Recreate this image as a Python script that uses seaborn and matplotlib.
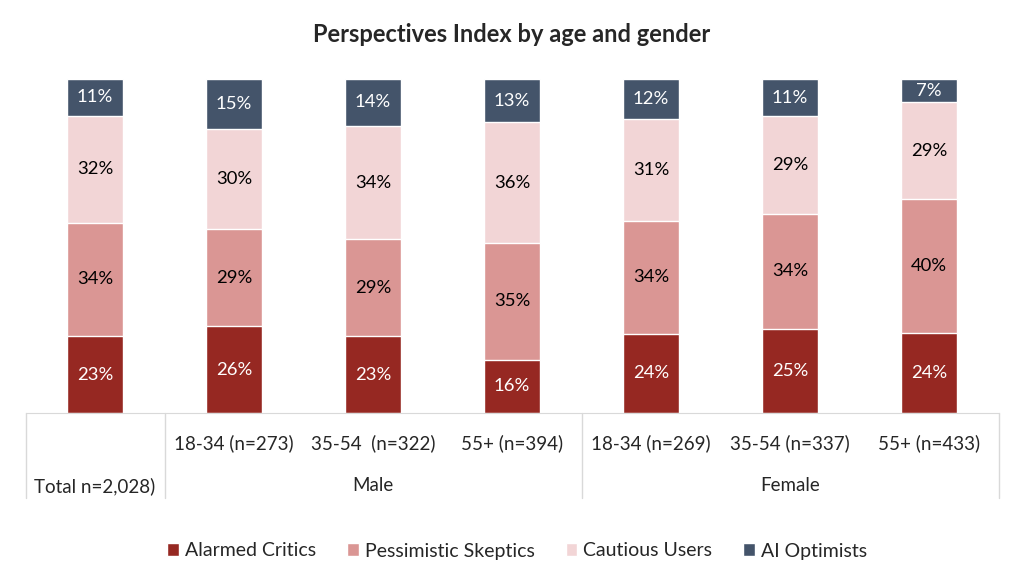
import pandas as pd
import seaborn as sns
import matplotlib.pyplot as plt
import matplotlib.transforms as mtransforms
from matplotlib.patches import Patch

groups = ["Total n=2,028)", "18-34 (n=273)", "35-54  (n=322)", "55+ (n=394)",
          "18-34 (n=269)", "35-54 (n=337)", "55+ (n=433)"]
age_labels = ["", "18-34 (n=273)", "35-54  (n=322)", "55+ (n=394)",
              "18-34 (n=269)", "35-54 (n=337)", "55+ (n=433)"]
segments = ["Alarmed Critics", "Pessimistic Skeptics", "Cautious Users", "AI Optimists"]
alarmed = [23, 26, 23, 16, 24, 25, 24]
pessimistic = [34, 29, 29, 35, 34, 34, 40]
cautious = [32, 30, 34, 36, 31, 29, 29]
optimists = [11, 15, 14, 13, 12, 11, 7]
colors = ["#962822", "#DA9694", "#F2D5D6", "#44546A"]
text_colors = ["white", "black", "black", "white"]

df = pd.DataFrame({"group": groups, segments[0]: alarmed, segments[1]: pessimistic,
                   segments[2]: cautious, segments[3]: optimists})
# 100% stacked: normalise each column
vals = df[segments]
vals = vals.div(vals.sum(axis=1), axis=0) * 100
cum = vals.cumsum(axis=1)

sns.set_style("white")
plt.rcParams['font.family'] = ['Lato', 'DejaVu Sans']

fig = plt.figure(figsize=(10.24, 5.86), dpi=100)
ax = fig.add_axes([25.5 / 1024, 173 / 586, 973 / 1024, 334 / 586])

# draw cumulative bars from the top down so they overlap into a stack
for i in range(len(segments) - 1, -1, -1):
    sns.barplot(x=df["group"], y=cum[segments[i]], color=colors[i], width=0.4,
                saturation=1, ax=ax, order=groups)

# segment labels
for i, seg in enumerate(segments):
    bottoms = cum[seg] - vals[seg]
    for j in range(len(groups)):
        ax.text(j, bottoms[j] + vals[seg][j] / 2, f"{df[seg][j]}%",
                ha="center", va="center", fontsize=13.3, color=text_colors[i])

ax.set_xlim(-0.5, len(groups) - 0.5)
ax.set_ylim(0, 100)
ax.set_xticks([])
ax.set_yticks([])
ax.set_xlabel("")
ax.set_ylabel("")
for s in ["top", "right", "left"]:
    ax.spines[s].set_visible(False)
ax.spines["bottom"].set_color("#D9D9D9")

trans = mtransforms.blended_transform_factory(ax.transData, ax.transAxes)
line_kw = dict(color="#D9D9D9", lw=1, transform=trans, clip_on=False)
for xs in [-0.5, 0.5, 3.5, 6.5]:
    ax.plot([xs, xs], [0, -0.255], **line_kw)

for j, lab in enumerate(age_labels):
    ax.text(j, -0.09, lab, ha="center", va="center", fontsize=13.5, transform=trans)
ax.text(0, -0.218, groups[0], ha="center", va="center", fontsize=13.5, transform=trans)
ax.text(2, -0.218, "Male", ha="center", va="center", fontsize=13.5, transform=trans)
ax.text(5, -0.218, "Female", ha="center", va="center", fontsize=13.5, transform=trans)

fig.suptitle("Perspectives Index by age and gender", y=1 - 35 / 586, va="center",
             fontsize=17, fontweight="bold")

handles = [Patch(facecolor=c, label=s) for c, s in zip(colors, segments)]
fig.legend(handles=handles, loc="center", bbox_to_anchor=(0.505, 1 - 551 / 586), ncol=4,
           frameon=False, fontsize=14, handlelength=0.6, handleheight=0.6,
           handletextpad=0.3, columnspacing=1.6)

fig.savefig("out.png", dpi=100)
